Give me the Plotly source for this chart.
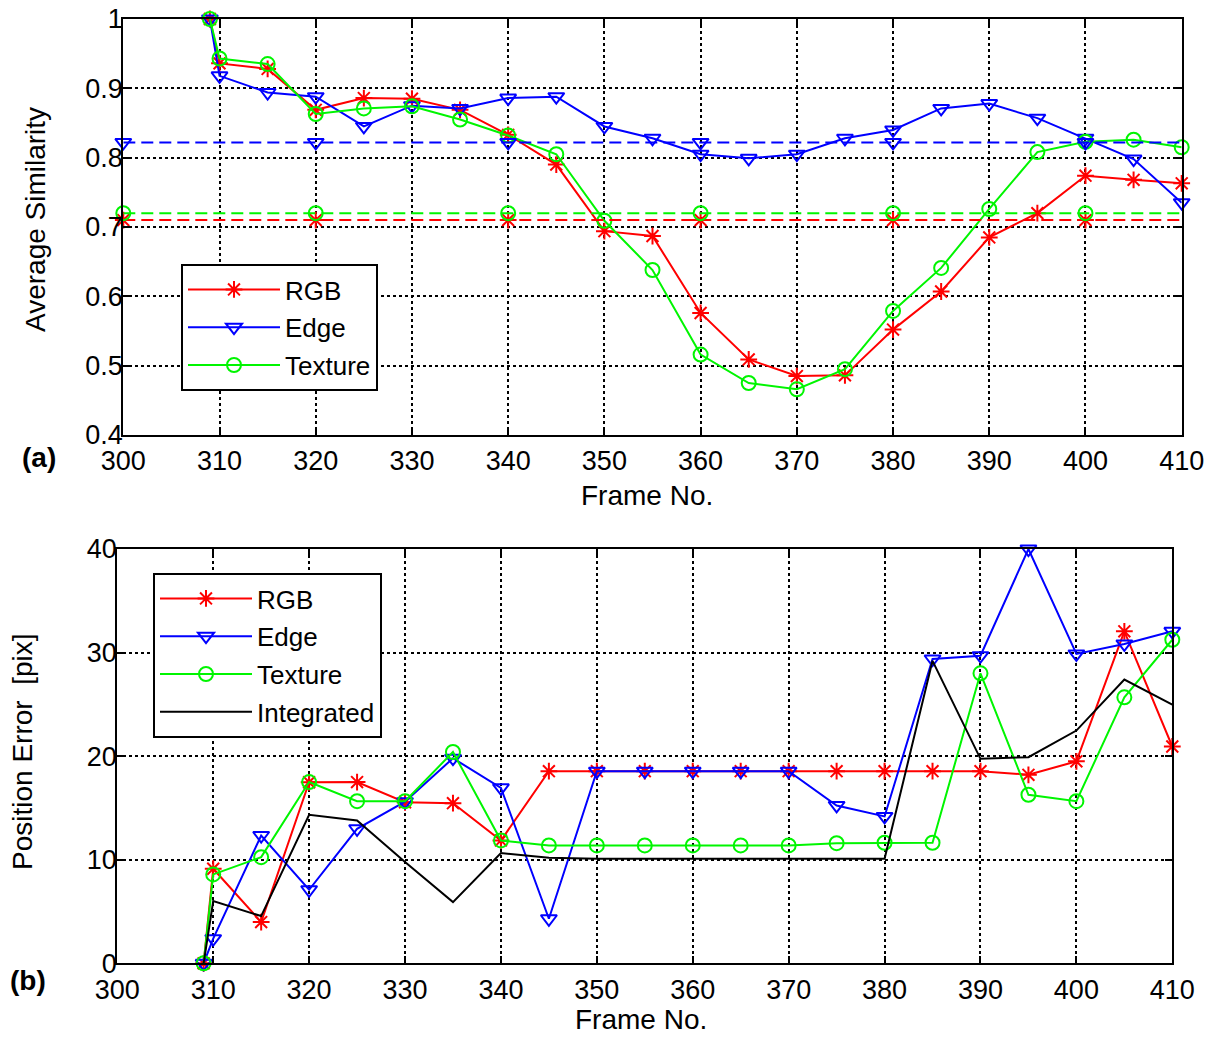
import plotly.graph_objects as go

# ---------------- data ----------------
frames = [309, 310, 315, 320, 325, 330, 335, 340, 345, 350, 355, 360, 365, 370,
          375, 380, 385, 390, 395, 400, 405, 410]

# (a) Average similarity
sim_rgb = [1.0, 0.936, 0.928, 0.869, 0.886, 0.885, 0.869, 0.833, 0.790, 0.694, 0.687,
           0.576, 0.509, 0.485, 0.486, 0.552, 0.607, 0.685, 0.720, 0.774, 0.768, 0.763]
sim_edge = [1.0, 0.918, 0.894, 0.888, 0.845, 0.875, 0.871, 0.886, 0.888, 0.845, 0.828,
            0.805, 0.799, 0.805, 0.828, 0.840, 0.871, 0.878, 0.857, 0.828, 0.798, 0.735]
sim_tex = [1.0, 0.943, 0.935, 0.863, 0.871, 0.874, 0.855, 0.832, 0.805, 0.709, 0.638,
           0.516, 0.475, 0.466, 0.495, 0.579, 0.641, 0.726, 0.808, 0.823, 0.826, 0.815]

# reference (mean) levels
ref_frames_line = [300, 410]
ref_frames_mark = [300, 320, 340, 360, 380, 400]
ref_rgb = 0.710
ref_edge = 0.822
ref_tex = 0.720

# (b) Position error [pix]
err_rgb = [0, 9.13, 3.98, 17.48, 17.5, 15.55, 15.46, 11.86, 18.55, 18.55, 18.55,
           18.55, 18.55, 18.55, 18.55, 18.55, 18.55, 18.55, 18.2, 19.5, 32.05, 20.93]
err_edge = [0, 2.38, 12.34, 7.1, 12.99, 15.6, 19.8, 16.94, 4.3, 18.55, 18.55,
            18.55, 18.55, 18.55, 15.24, 14.18, 29.38, 29.7, 40.0, 29.87, 30.83, 32.05]
err_tex = [0, 8.58, 10.25, 17.5, 15.65, 15.65, 20.4, 11.86, 11.38, 11.38, 11.38,
           11.38, 11.38, 11.38, 11.6, 11.64, 11.64, 28.0, 16.27, 15.65, 25.68, 31.24]
err_int = [0, 6.0, 4.56, 14.34, 13.79, 9.77, 5.91, 10.64, 10.19, 10.1, 10.1,
           10.1, 10.1, 10.1, 10.1, 10.1, 29.2, 19.74, 19.9, 22.47, 27.39, 24.98]

x_ticks = list(range(300, 411, 10))
sim_ticks = [0.4, 0.5, 0.6, 0.7, 0.8, 0.9, 1.0]
sim_tick_text = ["0.4", "0.5", "0.6", "0.7", "0.8", "0.9", "1"]
err_ticks = [0, 10, 20, 30, 40]

# ---------------- layout helpers (page has an 8px body margin) ----------------
W, H, OFF = 1200, 1027, 8


def px(x):
    return (x - OFF) / W


def py(y):
    return 1 - (y - OFF) / H


# ---------------- style ----------------
FONT = "Liberation Sans, Arial, Helvetica, sans-serif"
RED, BLUE, GREEN, BLACK = "#ff0000", "#0000ff", "#00f500", "#000000"
LW = 2
MS = 14
DASH = "12px,6px"

series = [
    ("RGB", RED, "asterisk-open"),
    ("Edge", BLUE, "triangle-down-open"),
    ("Texture", GREEN, "circle-open"),
]

fig = go.Figure()

# ---- panel (a) ----
for (name, color, sym), ys in zip(series, [sim_rgb, sim_edge, sim_tex]):
    fig.add_trace(go.Scatter(
        x=frames, y=ys, name=name, mode="lines+markers",
        line=dict(color=color, width=LW),
        marker=dict(symbol=sym, size=MS, color=color, line=dict(width=2, color=color)),
        xaxis="x", yaxis="y", legend="legend", legendgroup="a" + name,
        cliponaxis=False))

for (name, color, sym), lvl in zip(series, [ref_rgb, ref_edge, ref_tex]):
    fig.add_trace(go.Scatter(
        x=ref_frames_line, y=[lvl] * len(ref_frames_line), mode="lines",
        line=dict(color=color, width=LW, dash=DASH),
        xaxis="x", yaxis="y", showlegend=False, hoverinfo="skip"))
    fig.add_trace(go.Scatter(
        x=ref_frames_mark, y=[lvl] * len(ref_frames_mark), mode="markers",
        marker=dict(symbol=sym, size=MS, color=color, line=dict(width=2, color=color)),
        xaxis="x", yaxis="y", showlegend=False, hoverinfo="skip", cliponaxis=False))

# ---- panel (b) ----
for (name, color, sym), ys in zip(series, [err_rgb, err_edge, err_tex]):
    fig.add_trace(go.Scatter(
        x=frames, y=ys, name=name, mode="lines+markers",
        line=dict(color=color, width=LW),
        marker=dict(symbol=sym, size=MS, color=color, line=dict(width=2, color=color)),
        xaxis="x2", yaxis="y2", legend="legend2", legendgroup="b" + name,
        cliponaxis=False))
fig.add_trace(go.Scatter(
    x=frames, y=err_int, name="Integrated", mode="lines",
    line=dict(color=BLACK, width=LW),
    xaxis="x2", yaxis="y2", legend="legend2", legendgroup="bInt"))

axis_common = dict(
    showline=True, linecolor="black", linewidth=2, mirror="ticks",
    ticks="inside", ticklen=7, tickwidth=1.5, tickcolor="black",
    showgrid=True, gridcolor="black", griddash="dot", gridwidth=1.5,
    zeroline=False, automargin=False, ticklabeloverflow="allow",
    tickfont=dict(family=FONT, size=27, color="black"),
)

legend_common = dict(
    xanchor="left", yanchor="top", bgcolor="white", bordercolor="black",
    borderwidth=2, font=dict(family=FONT, size=26, color="black"),
    traceorder="grouped", tracegroupgap=1, itemwidth=92,
)

fig.update_layout(
    width=W, height=H,
    margin=dict(l=0, r=0, t=0, b=0, pad=0, autoexpand=False),
    paper_bgcolor="white", plot_bgcolor="white",
    font=dict(family=FONT, color="black"),
    xaxis=dict(domain=[px(123.3), px(1181.7)], range=[300, 410], tickvals=x_ticks,
               anchor="y", ticklabelstandoff=1, **axis_common),
    yaxis=dict(domain=[py(435), py(19)], range=[0.4, 1.0], tickvals=sim_ticks,
               ticktext=sim_tick_text, anchor="x", ticklabelstandoff=-7, **axis_common),
    xaxis2=dict(domain=[px(117.3), px(1172.3)], range=[300, 410], tickvals=x_ticks,
                anchor="y2", ticklabelstandoff=1, **axis_common),
    yaxis2=dict(domain=[py(963.3), py(549)], range=[0, 40], tickvals=err_ticks,
                anchor="x2", ticklabelstandoff=-7, **axis_common),
    legend=dict(x=px(181), y=py(264), **legend_common),
    legend2=dict(x=px(153), y=py(573), **legend_common),
    showlegend=True,
)

ann_font = dict(family=FONT, size=28, color="black")
ann_common = dict(xref="paper", yref="paper", showarrow=False, font=ann_font,
                  xanchor="center", yanchor="middle")
fig.add_annotation(text="Frame No.", x=px(647), y=py(495), **ann_common)
fig.add_annotation(text="Frame No.", x=px(641), y=py(1019), **ann_common)
fig.add_annotation(text="Average Similarity", x=px(35), y=py(220), textangle=-90,
                   **ann_common)
fig.add_annotation(text="Position Error  [pix]", x=px(22), y=py(752), textangle=-90,
                   **ann_common)
fig.add_annotation(text="<b>(a)</b>", x=px(39), y=py(457), **ann_common)
fig.add_annotation(text="<b>(b)</b>", x=px(28), y=py(980), **ann_common)

fig.write_html("out.html")
